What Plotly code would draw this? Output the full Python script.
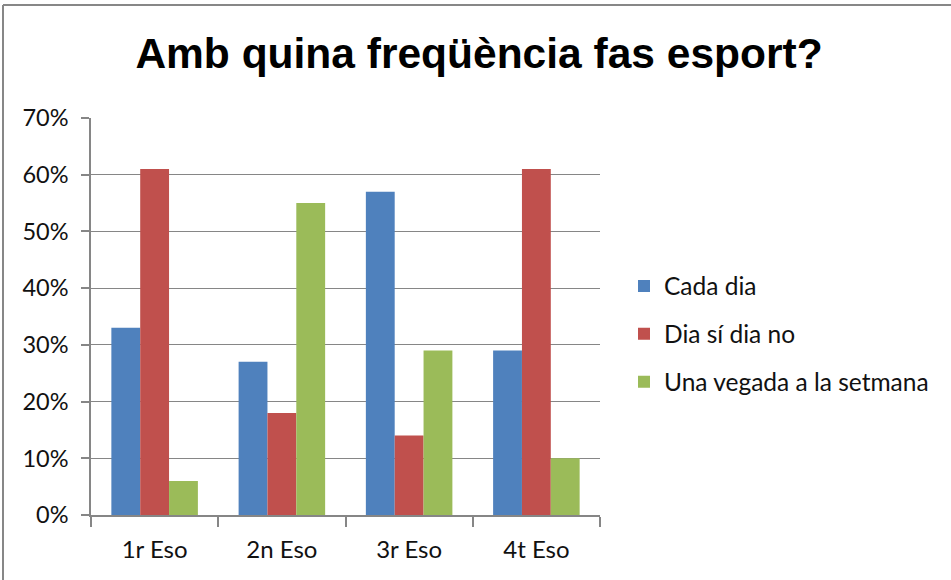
import plotly.graph_objects as go

categories = ["1r Eso", "2n Eso", "3r Eso", "4t Eso"]
series_names = ["Cada dia", "Dia sí dia no", "Una vegada a la setmana"]
cada_dia = [0.33, 0.27, 0.57, 0.29]
dia_si_dia_no = [0.61, 0.18, 0.14, 0.61]
una_vegada = [0.06, 0.55, 0.29, 0.10]
colors = ["#4F81BD", "#C0504D", "#9BBB59"]

W, H = 951, 580
L, R, T, B = 91, 600, 118, 515

fig = go.Figure()
for i, (name, vals) in enumerate(zip(series_names, [cada_dia, dia_si_dia_no, una_vegada])):
    fig.add_trace(go.Bar(x=categories, y=vals, name=name, marker=dict(color=colors[i], line=dict(width=0)),
                         legendgroup=name))

def px2x(px):
    return (px - L) / (R - L)

def px2y(py):
    return (B - py) / (B - T)

fig.update_layout(
    width=W, height=H,
    margin=dict(l=L, r=W - R, t=T, b=H - B, pad=0),
    paper_bgcolor="white", plot_bgcolor="white",
    barmode="group", bargap=0.32, bargroupgap=0,
    title=dict(text="<b>Amb quina freqüència fas esport?</b>", x=479 / W, xanchor="center",
               y=1 - 53 / H, yanchor="middle", yref="container",
               font=dict(family="Liberation Sans, Arial", size=42.5, color="black")),
    font=dict(family="Lato", size=23, color="#111111"),
    legend=dict(x=px2x(624), xanchor="left", y=px2y(334), yanchor="middle",
                traceorder="grouped", tracegroupgap=13,
                font=dict(family="Lato", size=24.5, color="#111111"),
                bgcolor="rgba(0,0,0,0)"),
    showlegend=True,
    xaxis=dict(showline=True, linecolor="#868686", linewidth=1.5, ticks="outside", ticklen=10,
               tickcolor="#868686", tickwidth=1.5, tickson="boundaries", showgrid=False,
               ticklabelstandoff=12,
               tickfont=dict(family="Lato", size=24, color="#111111")),
    yaxis=dict(range=[0, 0.7], dtick=0.1, tickformat=".0%", showline=True, linecolor="#868686",
               linewidth=1.5, ticks="outside", ticklen=8, tickcolor="#868686", tickwidth=1.5,
               showgrid=True, gridcolor="#868686", gridwidth=1, zeroline=False,
               ticklabelstandoff=8,
               tickfont=dict(family="Lato", size=23.5, color="#111111")),
    shapes=[
        dict(type="line", xref="paper", yref="paper", x0=px2x(3), x1=px2x(3), y0=px2y(H + 5), y1=px2y(5),
             line=dict(color="#878787", width=2)),
        dict(type="line", xref="paper", yref="paper", x0=px2x(3), x1=px2x(W + 5), y0=px2y(5), y1=px2y(5),
             line=dict(color="#878787", width=2)),
    ],
)

fig.write_html("out.html", config={"displayModeBar": False},
               post_script="document.body.style.margin='0';")
